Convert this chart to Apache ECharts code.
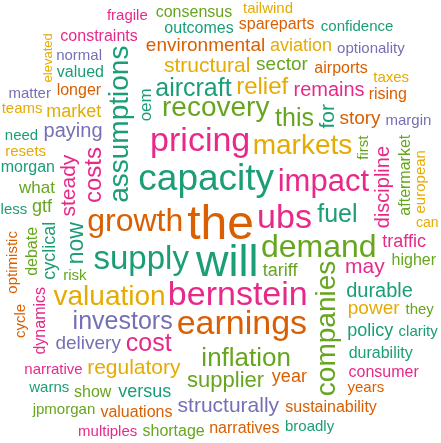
<!DOCTYPE html>
<html><head><meta charset="utf-8">
<script src="https://cdn.jsdelivr.net/npm/echarts@6/dist/echarts.min.js"></script>
<style>html,body{margin:0;padding:0;background:#fff}#c{width:441px;height:443px}</style>
</head><body><div id="c"></div>
<script>
// Words of the cloud
const words = ["the","will","capacity","bernstein","ubs","pricing","earnings","supply","growth","demand","impact",
"assumptions","recovery","markets","valuation","companies","inflation","investors","fuel","aircraft","this","cost",
"costs","relief","now","supplier","may","structural","regulatory","structurally","steady","for","remains","durable",
"discipline","paying","environmental","delivery","sector","power","story","year","cyclical","versus","market","tariff",
"traffic","policy","aviation","gtf","what","oem","aftermarket","debate","dynamics","airports","longer","outcomes",
"narratives","higher","valuations","spareparts","durability","sustainability","morgan","shortage","consensus","valued",
"consumer","show","constraints","rising","first","narrative","margin","broadly","normal","optionality","tailwind",
"resets","years","they","clarity","european","risk","less","need","fragile","taxes","multiples","confidence","jpmorgan",
"optimistic","cycle","teams","matter","warns","can","elevated"];
// Estimated weights (frequency proxy)
const weights = [48,45,37,34,34,34,34,33,32,32,31,
28,28,28,28,28,26,25,25,25,25,25,
24,24,23,22,21,21,21,21,21,21,20,20,
20,20,19,19,19,19,19,18,18,18,18,18,
18,18,18,18,17,17,16,16,16,16,16,16,
16,16,16,16,16,16,16,16,16,16,
16,16,16,16,15,15,15,15,15,15,15,
15,15,15,15,15,15,15,15,15,15,15,15,15,
15,15,15,15,15,14,13];
// Colour group per word: 0 teal,1 orange,2 purple,3 pink,4 green,5 yellow
const colorGroup = [1,0,0,3,3,3,1,0,1,4,3,
0,4,5,5,4,4,2,0,0,4,3,
3,5,0,4,3,5,5,2,3,0,3,0,
3,2,1,2,4,5,1,1,0,0,5,4,
3,0,5,4,4,0,4,4,3,1,1,0,
1,4,1,1,0,1,0,4,4,0,
3,4,3,1,4,3,2,0,2,2,5,
5,1,4,0,5,4,0,0,3,5,3,0,4,
1,1,5,2,0,5,5];
// Vertical orientation flag per word
const vertical = [0,0,0,0,0,0,0,0,0,0,0,
1,0,0,0,1,0,0,0,0,0,0,
1,0,1,0,0,0,0,0,1,1,0,0,
1,0,0,0,0,0,0,0,1,0,0,0,
0,0,0,0,0,1,1,1,1,0,0,0,
0,0,0,0,0,0,0,0,0,0,
0,0,0,0,1,0,0,0,0,0,0,
0,0,0,0,1,0,0,0,0,0,0,0,0,
1,1,0,0,0,0,1];

const palette = ['#1B9E77','#D95F02','#7570B3','#E7298A','#66A61E','#E6AB02'];
const W = 441, H = 443;
const FONT = '"Liberation Sans", Arial, sans-serif';
const minW = Math.min(...weights), maxW = Math.max(...weights);
const fontOf = w => 13 + (w - minW) / (maxW - minW) * (48 - 13);

function layout() {
  const ctx = document.createElement('canvas').getContext('2d');
  ctx.textAlign = 'center'; ctx.textBaseline = 'middle';
  const order = words.map((_, i) => i).sort((a, b) => weights[b] - weights[a] || a - b);
  const boxes = [], out = [];
  const pad = 2.5;
  order.forEach((i, k) => {
    const fs = fontOf(weights[i]);
    ctx.font = fs + 'px ' + FONT;
    const m = ctx.measureText(words[i]);
    const l = m.actualBoundingBoxLeft, r = m.actualBoundingBoxRight,
          a = m.actualBoundingBoxAscent, d = m.actualBoundingBoxDescent;
    let bx0, bx1, by0, by1;
    if (vertical[i]) { bx0 = -a; bx1 = d; by0 = -r; by1 = l; }
    else { bx0 = -l; bx1 = r; by0 = -a; by1 = d; }
    let theta = k * 2.39996, rad = 0;
    const cx = W / 2, cy = H / 2 + 4;
    let found = null;
    for (let s = 0; s < 400000; s++) {
      const x = cx + rad * Math.cos(theta), y = cy + rad * Math.sin(theta);
      const b0 = x + bx0 - pad, b1 = y + by0 - pad, b2 = x + bx1 + pad, b3 = y + by1 + pad;
      if (b0 >= -1 && b1 >= -1 && b2 <= W + 1 && b3 <= H + 1) {
        let hit = false;
        for (const p of boxes) { if (b0 < p[2] && b2 > p[0] && b1 < p[3] && b3 > p[1]) { hit = true; break; } }
        if (!hit) { found = [x, y, [b0, b1, b2, b3]]; break; }
      }
      const dt = Math.min(0.1, 2 / Math.max(rad, 5));
      theta += dt; rad += 3 * dt / (2 * Math.PI);
      if (rad > 340) break;
    }
    if (found) { boxes.push(found[2]); out.push([found[0], found[1], i, fs]); }
  });
  return out;
}

const placed = layout();
const chart = echarts.init(document.getElementById('c'), null, { renderer: 'canvas' });
chart.setOption({
  animation: false,
  backgroundColor: '#ffffff',
  grid: { left: 0, right: 0, top: 0, bottom: 0 },
  xAxis: { type: 'value', min: 0, max: W, show: false },
  yAxis: { type: 'value', min: 0, max: H, inverse: true, show: false },
  series: [{
    type: 'custom',
    coordinateSystem: 'cartesian2d',
    clip: false,
    data: placed,
    renderItem: function (params, api) {
      const i = api.value(2);
      const pt = api.coord([api.value(0), api.value(1)]);
      return {
        type: 'text',
        x: pt[0], y: pt[1],
        rotation: vertical[i] ? Math.PI / 2 : 0,
        style: {
          text: words[i],
          fill: palette[colorGroup[i]],
          fontSize: api.value(3),
          fontFamily: FONT,
          align: 'center',
          verticalAlign: 'middle'
        }
      };
    }
  }]
});
</script>
</body></html>
